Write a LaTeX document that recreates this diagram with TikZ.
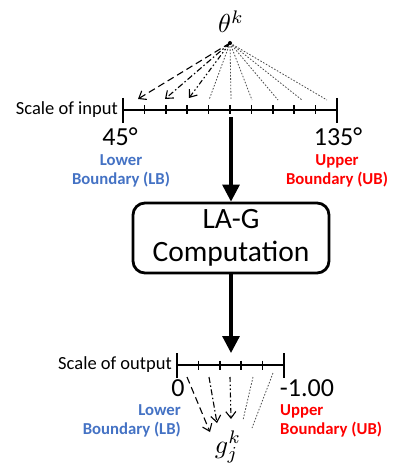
\documentclass[tikz,border=0pt]{standalone}
\usepackage{fontspec}
\setmainfont{Carlito}
\usetikzlibrary{arrows.meta}
\definecolor{lbblue}{RGB}{68,114,196}
\definecolor{ubred}{RGB}{255,0,0}
\begin{document}
\begin{tikzpicture}[x=1pt,y=-1pt,
  scaleline/.style={line width=1.6pt},
  bigarrow/.style={line width=3.2pt,-{Triangle[width=17pt,length=17pt]}},
  fanarrow/.style={line width=1.1pt,-{Straight Barb[length=6.5pt,width=10pt]}},
  dashA/.style={fanarrow,dash pattern=on 7pt off 4pt},
  dashB/.style={fanarrow,dash pattern=on 6pt off 2.5pt on 1.5pt off 2.5pt},
  dashC/.style={fanarrow,dash pattern=on 5pt off 2.5pt on 1.5pt off 2.5pt on 1.5pt off 2.5pt},
  dotline/.style={line width=0.8pt,gray!60!black,dash pattern=on 1.6pt off 1.6pt},
  lbl/.style={font=\fontsize{18.5}{22}\selectfont,inner sep=0pt},
  num/.style={font=\fontsize{26}{30}\selectfont,inner sep=0pt,anchor=base},
  bnd/.style={font=\fontsize{16.7}{20}\selectfont\bfseries,inner sep=0pt,anchor=base},
  mathlbl/.style={font=\normalsize,inner sep=0pt,anchor=base,scale=2.6},
  mainbox/.style={draw,line width=2.8pt,rounded corners=12pt,minimum width=196pt,minimum height=70pt,align=center,font=\fontsize{29.5}{35}\selectfont,inner sep=0pt}
]
\useasboundingbox (0,0) rectangle (392,465);

% ---------- input scale ----------
\coordinate (inL) at (123,110);
\coordinate (inR) at (337,110);
\draw[scaleline] (inL) -- (inR);
\draw[scaleline] (123,98) -- (123,123);
\draw[scaleline] (337,98) -- (337,123);
\foreach \i in {1,...,9}{
  \draw[scaleline] (123+21.4*\i,105.5) -- (123+21.4*\i,114.5);
}
\node[lbl,anchor=east] (scin) at (118,110) {Scale of input};
\node[num] (n45) at (120,146) {45°};
\node[num] (n135) at (338,146) {135°};
\node[bnd,text=lbblue] (lo1) at (121,165) {Lower};
\node[bnd,text=lbblue] (lb1) at (121,184) {Boundary (LB)};
\node[bnd,text=ubred] (up1) at (337,165) {Upper};
\node[bnd,text=ubred] (ub1) at (337,184) {Boundary (UB)};

% ---------- theta and fan ----------
\node[mathlbl] (theta) at (231,33) {$\theta^k$};
\coordinate (apex) at (230,43);
\coordinate (t1) at (138,99);
\coordinate (t2) at (165,99);
\coordinate (t3) at (189,98);
\draw[dashA] (apex) -- (t1);
\draw[dashB] (apex) -- (t2);
\draw[dashC] (apex) -- (t3);
\foreach \x [count=\k] in {209,231,252,278,302,327}{
  \coordinate (d\k) at (\x,100);
  \draw[dotline] (apex) -- (d\k);
}
\fill (apex) circle (2pt);

% ---------- box ----------
\node[mainbox] (box) at (231,238) {LA-G\\[-2pt]Computation};
\coordinate (arrTop) at (231,117);
\draw[bigarrow] (arrTop) -- (box.north);
\coordinate (arrBot) at (231,353);
\draw[bigarrow] (box.south) -- (arrBot);

% ---------- output scale ----------
\coordinate (outL) at (177,365);
\coordinate (outR) at (284,365);
\draw[scaleline] (outL) -- (outR);
\draw[scaleline] (177,353) -- (177,378);
\draw[scaleline] (284,353) -- (284,378);
\foreach \i in {1,...,4}{
  \draw[scaleline] (177+21.4*\i,360.5) -- (177+21.4*\i,369.5);
}
\node[lbl,anchor=east] (scout) at (172,365) {Scale of output};
\node[num] (n0) at (178,396) {0};
\node[num] (nm1) at (307,396) {-1.00};
\node[bnd,text=lbblue,anchor=base east] (lo2) at (181,415) {Lower};
\node[bnd,text=lbblue,anchor=base east] (lb2) at (181,434) {Boundary (LB)};
\node[bnd,text=ubred,anchor=base west] (up2) at (280,415) {Upper};
\node[bnd,text=ubred,anchor=base west] (ub2) at (280,434) {Boundary (UB)};

\node[mathlbl] (g) at (228,453) {$g_j^k$};
\coordinate (b1s) at (187,377); \coordinate (b1e) at (210,432);
\coordinate (b2s) at (209,377); \coordinate (b2e) at (217,423);
\coordinate (b3s) at (230,377); \coordinate (b3e) at (231,419);
\coordinate (b4s) at (253,377); \coordinate (b4e) at (243,420);
\coordinate (b5s) at (273,373); \coordinate (b5e) at (252,428);
\draw[dashA] (b1s) -- (b1e);
\draw[dashB] (b2s) -- (b2e);
\draw[dashC] (b3s) -- (b3e);
\draw[dotline] (b4s) -- (b4e);
\draw[dotline] (b5s) -- (b5e);
\end{tikzpicture}
\end{document}
